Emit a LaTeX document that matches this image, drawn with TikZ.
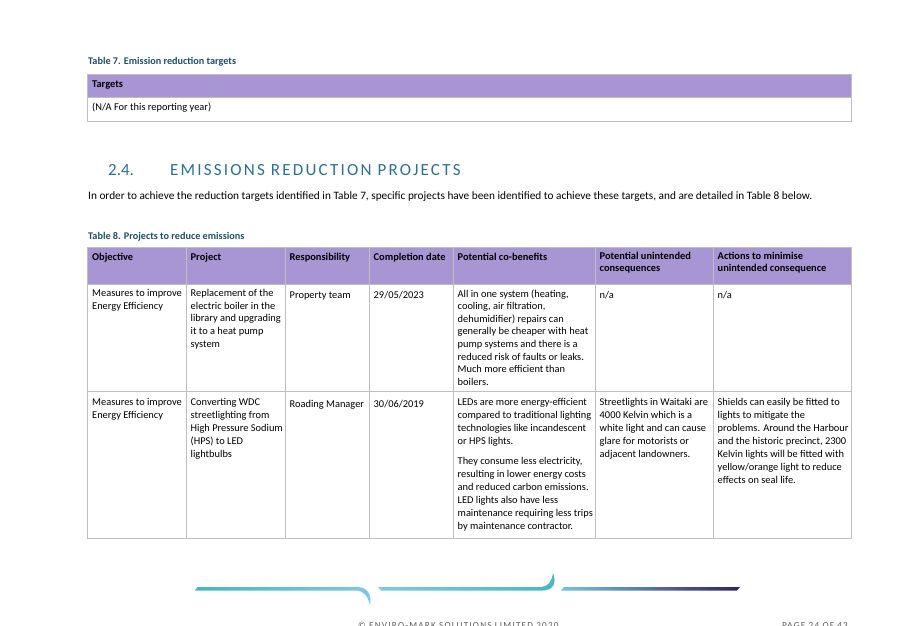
\documentclass[tikz,border=0pt]{standalone}
\usepackage{fontspec}
\setmainfont{Carlito}
\usepackage{xcolor}
\usepackage{tikz}
\definecolor{hdrpurple}{RGB}{168,150,212}
\definecolor{rulegrey}{RGB}{191,191,191}
\definecolor{captionteal}{RGB}{31,78,101}
\definecolor{headteal}{RGB}{46,110,142}
\definecolor{footgrey}{RGB}{90,90,90}
\definecolor{swteal}{RGB}{72,182,192}
\definecolor{swblue}{RGB}{128,200,226}
\definecolor{swlav}{RGB}{202,188,230}
\definecolor{swdark}{RGB}{48,34,98}
\NewDocumentCommand{\bodyfont}{O{12.6}}{\fontsize{10.4}{#1}\selectfont}
\tikzset{
	cell/.style={anchor=north west, inner sep=0pt, align=left, font=\bodyfont, execute at begin node={\strut}},
	hcell/.style={cell, font=\bodyfont\bfseries},
	loosecell/.style={cell, font=\bodyfont[13]},
	captext/.style={anchor=base west, inner sep=0pt, text=captionteal, font=\fontsize{10.2}{12}\selectfont\bfseries},
	gridline/.style={draw=rulegrey, line width=0.8pt},
	foot/.style={anchor=base west, inner sep=0pt, text=footgrey, font=\fontsize{9.2}{11}\selectfont\addfontfeatures{LetterSpace=13}},
}

\begin{document}
\begin{tikzpicture}[x=1pt, y=-1pt]
		\useasboundingbox (0,0) rectangle (907,626);

		% table 7
		\path (88,64.5) node[captext] (cap7) {Table 7. Emission reduction targets};
		\fill[hdrpurple] (87,74) rectangle (851,97);
		\path[gridline] (87,74) rectangle (851,121) (87,97) -- (851,97);
		\path (92,78.7) node[hcell] (targets) {Targets};
		\path (92,101.5) node[cell] (na) {(N/A For this reporting year)};

		% section heading
		\path (108,175) node[anchor=base west, inner sep=0pt, text=headteal, font=\fontsize{17}{19}\selectfont] (secnum) {2.4.};
		\path (170,175) node[anchor=base west, inner sep=0pt, text=headteal, font=\fontsize{17}{19}\selectfont\addfontfeatures{LetterSpace=13}] (sectitle) {EMISSIONS REDUCTION PROJECTS};
		\path (88,199) node[anchor=base west, inner sep=0pt, font=\fontsize{11.3}{13.5}\selectfont] (intro) {In order to achieve the reduction targets identified in Table 7, specific projects have been identified to achieve these targets, and are detailed in Table 8 below.};

		% table 8
		\path (88,239.5) node[captext] (cap8) {Table 8. Projects to reduce emissions};
		\fill[hdrpurple] (87,247) rectangle (851,284.5);
		\path[gridline] (87,247) rectangle (851,538.5)
			(87,284.5) -- (851,284.5) (87,391.5) -- (851,391.5)
			(186,247) -- (186,538.5) (285,247) -- (285,538.5) (369,247) -- (369,538.5)
			(453,247) -- (453,538.5) (595,247) -- (595,538.5) (713,247) -- (713,538.5);

		\path (92,251.7) node[hcell] (hobj) {Objective};
		\path (190.5,251.7) node[hcell] (hproj) {Project};
		\path (289.5,251.7) node[hcell] (hresp) {Responsibility};
		\path (373.5,251.7) node[hcell] (hdate) {Completion date};
		\path (457.5,251.7) node[hcell] (hben) {Potential co-benefits};
		\path (599.5,251.7) node[hcell] (hcons) {Potential unintended\\consequences};
		\path (717.5,251.7) node[hcell] (hact) {Actions to minimise\\unintended consequence};

		\path (92,289.2) node[cell] (obj1) {Measures to improve\\Energy Efficiency};
		\path (190.5,289.2) node[cell] (proj1) {Replacement of the\\electric boiler in the\\library and upgrading\\it to a heat pump\\system};
		\path (289.5,289.2) node[cell] (resp1) {Property team};
		\path (373.5,289.2) node[cell] (date1) {29/05/2023};
		\path (457.5,289.2) node[cell] (ben1) {All in one system (heating,\\cooling, air filtration,\\dehumidifier) repairs can\\generally be cheaper with heat\\pump systems and there is a\\reduced risk of faults or leaks.\\Much more efficient than\\boilers.};
		\path (599.5,289.2) node[cell] (cons1) {n/a};
		\path (717.5,289.2) node[cell] (act1) {n/a};

		\path (92,398) node[loosecell] (obj2) {Measures to improve\\Energy Efficiency};
		\path (190.5,398) node[loosecell] (proj2) {Converting WDC\\streetlighting from\\High Pressure Sodium\\(HPS) to LED\\lightbulbs};
		\path (289.5,398) node[loosecell] (resp2) {Roading Manager};
		\path (373.5,398) node[loosecell] (date2) {30/06/2019};
		\path (457.5,398) node[loosecell] (ben2) {LEDs are more energy-efficient\\compared to traditional lighting\\technologies like incandescent\\or HPS lights.\\[7pt]They consume less electricity,\\resulting in lower energy costs\\and reduced carbon emissions.\\LED lights also have less\\maintenance requiring less trips\\by maintenance contractor.};
		\path (599.5,398) node[loosecell] (cons2) {Streetlights in Waitaki are\\4000 Kelvin which is a\\white light and can cause\\glare for motorists or\\adjacent landowners.};
		\path (717.5,398) node[loosecell] (act2) {Shields can easily be fitted to\\lights to mitigate the\\problems. Around the Harbour\\and the historic precinct, 2300\\Kelvin lights will be fitted with\\yellow/orange light to reduce\\effects on seal life.};

		% footer swooshes
		\shade[left color=swteal, right color=swblue] (195,590.5) -- (197.5,587) -- (357,587)
			.. controls (367,587) and (372,594) .. (370,605) .. controls (368,597) and (364,590.5) .. (356,590.5) -- cycle;
		\shade[left color=swblue, right color=swteal] (378,587) -- (381,590.5) -- (543,590.5)
			.. controls (553,590.5) and (557,583) .. (553,573) .. controls (552,581) and (548,587) .. (541,587) -- cycle;
		\shade[left color=swblue!80!swteal, middle color=swlav, right color=swdark] (561,590.5) -- (564,587) -- (740,587) -- (737,590.5) -- cycle;

		\path (358,628) node[foot] (copyright) {© ENVIRO-MARK SOLUTIONS LIMITED 2020};
		\path (782,628) node[foot] (pageno) {PAGE 24 OF 43};
	\end{tikzpicture}
\end{document}
